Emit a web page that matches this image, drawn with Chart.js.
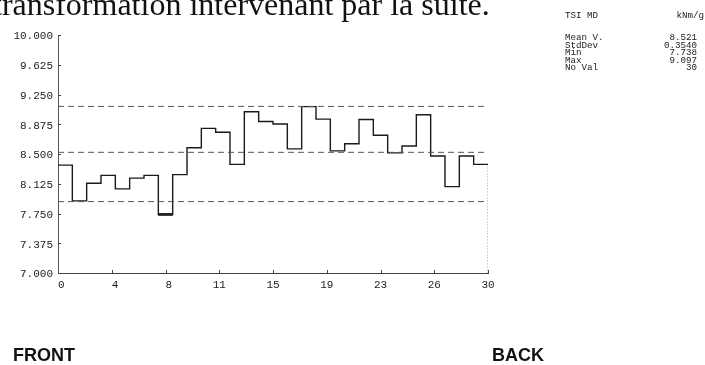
<!DOCTYPE html>
<html>
<head>
<meta charset="utf-8">
<script src="https://cdn.jsdelivr.net/npm/chart.js@4.4.1/dist/chart.umd.min.js"></script>
<style>
  html, body { margin: 0; padding: 0; background: #fff; }
  #wrap { position: relative; width: 705px; height: 365px; overflow: hidden; background: #fff; }
  #c { position: absolute; left: 0; top: 0; }
  .t { position: absolute; white-space: pre; }
  .caption { font-family: "Liberation Serif", "Times New Roman", serif; font-size: 32px; line-height: 32px; left: -7px; top: -12px; color: #111; }
  .stats { font-family: "Liberation Mono", "Courier New", monospace; font-size: 9.2px; line-height: 7.6px; color: #222; }
  .side { font-family: "Liberation Sans", Arial, sans-serif; font-weight: bold; font-size: 18px; line-height: 18px; top: 346px; color: #111; }
</style>
</head>
<body>
<div id="wrap">
  <canvas id="c" width="705" height="365"></canvas>
  <div class="t caption">transformation intervenant par la suite.</div>
  <div class="t stats" id="unitName" style="left:565px; top:12px"></div>
  <div class="t stats" id="unitLabel" style="right:1px; top:12px; text-align:right"></div>
  <div class="t stats" id="statLabels" style="left:565px; top:34px"></div>
  <div class="t stats" id="statValues" style="right:8px; top:34px; text-align:right"></div>
  <div class="t side" style="left:13px">FRONT</div>
  <div class="t side" style="left:492px">BACK</div>
</div>
<script>
// TSI MD profile, one value per strip position (0..29)
const tsiMD = [8.360, 7.909, 8.132, 8.231, 8.060, 8.196, 8.231, 7.738, 8.240, 8.578,
               8.823, 8.775, 8.369, 9.033, 8.909, 8.878, 8.565, 9.097, 8.939, 8.540,
               8.630, 8.935, 8.737, 8.514, 8.600, 8.994, 8.475, 8.089, 8.475, 8.369];

// reference levels
const meanLine = 8.521;
const bandUpper = 9.10;
const bandLower = 7.90;

// axes
const xTickPos = [0, 3.75, 7.5, 11.25, 15, 18.75, 22.5, 26.25, 30];
const xTickLabels = ['0', '4', '8', '11', '15', '19', '23', '26', '30'];
const yTickLabels = ['7.000', '7.375', '7.750', '8.125', '8.500', '8.875', '9.250', '9.625', '10.000'];

// statistics panel
const unitName = 'TSI MD';
const unitLabel = 'kNm/g';
const statNames = ['Mean V.', 'StdDev', 'Min', 'Max', 'No Val'];
const statValues = ['8.521', '0.3540', '7.738', '9.097', '30'];

document.getElementById('unitName').textContent = unitName;
document.getElementById('unitLabel').textContent = unitLabel;
document.getElementById('statLabels').textContent = statNames.join('\n');
document.getElementById('statValues').textContent = statValues.join('\n');

const xMin = 0, xMax = tsiMD.length;
const yMin = parseFloat(yTickLabels[0]);
const yMax = parseFloat(yTickLabels[yTickLabels.length - 1]);

// step profile: each value spans [i, i+1]
const stepPoints = tsiMD.map((v, i) => ({ x: i, y: v }));
stepPoints.push({ x: xMax, y: tsiMD[tsiMD.length - 1] });

// lowest strip is drawn heavier
const minVal = Math.min(...tsiMD);
const minIdx = tsiMD.indexOf(minVal);
const minPoints = [{ x: minIdx, y: minVal }, { x: minIdx + 1, y: minVal }];

const hLine = v => [{ x: xMin, y: v }, { x: xMax, y: v }];
const endDrop = [{ x: xMax, y: tsiMD[tsiMD.length - 1] }, { x: xMax, y: yMin }];

const monoFont = { family: '"Liberation Mono", "Courier New", monospace', size: 11 };

const tickMarks = {
  id: 'tickMarks',
  afterDatasetsDraw(chart) {
    const { ctx, chartArea: a, scales: { x, y } } = chart;
    ctx.save();
    ctx.strokeStyle = '#444';
    ctx.lineWidth = 1;
    ctx.beginPath();
    x.ticks.forEach(t => {
      const px = Math.round(x.getPixelForValue(t.value)) + 0.5;
      ctx.moveTo(px, a.bottom);
      ctx.lineTo(px, a.bottom - 3);
    });
    y.ticks.forEach(t => {
      const py = Math.round(y.getPixelForValue(t.value)) + 0.5;
      ctx.moveTo(a.left, py);
      ctx.lineTo(a.left + 3, py);
    });
    ctx.stroke();
    ctx.restore();
  }
};

const refStyle = { borderColor: '#555', borderWidth: 1, borderDash: [6, 4], pointRadius: 0, fill: false };

new Chart(document.getElementById('c'), {
  type: 'line',
  data: {
    datasets: [
      { data: hLine(bandUpper), ...refStyle },
      { data: hLine(meanLine), ...refStyle },
      { data: hLine(bandLower), ...refStyle },
      { data: stepPoints, stepped: true, borderColor: '#1a1a1a', borderWidth: 1.4, pointRadius: 0, fill: false },
      { data: minPoints, borderColor: '#111', borderWidth: 2.6, pointRadius: 0, fill: false },
      { data: endDrop, borderColor: '#555', borderWidth: 1, borderDash: [1, 2], pointRadius: 0, fill: false }
    ]
  },
  options: {
    responsive: false,
    animation: false,
    devicePixelRatio: 1,
    layout: { padding: { left: 0, top: 35, right: 217, bottom: 68 } },
    plugins: { legend: { display: false }, tooltip: { enabled: false } },
    scales: {
      x: {
        type: 'linear', min: xMin, max: xMax,
        afterBuildTicks: s => { s.ticks = xTickPos.map(v => ({ value: v })); },
        afterFit: s => { s.height = 24; },
        ticks: {
          callback: (v, i) => xTickLabels[i].padStart(2, ' '),
          font: monoFont, color: '#222', padding: 5, maxRotation: 0, autoSkip: false
        },
        grid: { display: false, drawTicks: false },
        border: { display: true, color: '#444', width: 1 }
      },
      y: {
        type: 'linear', min: yMin, max: yMax,
        afterBuildTicks: s => { s.ticks = yTickLabels.map(t => ({ value: parseFloat(t) })); },
        afterFit: s => { s.width = 58; },
        ticks: {
          callback: (v, i) => yTickLabels[i],
          font: monoFont, color: '#222', padding: 5, labelOffset: 1.5, autoSkip: false
        },
        grid: { display: false, drawTicks: false },
        border: { display: true, color: '#555', width: 1 }
      }
    }
  },
  plugins: [tickMarks]
});
</script>
</body>
</html>
